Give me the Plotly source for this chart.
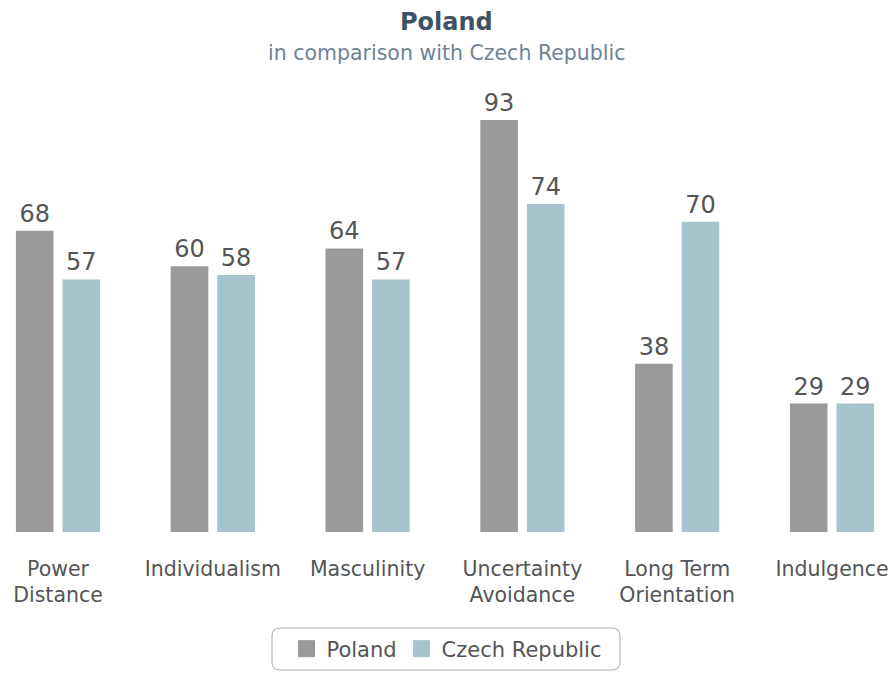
import plotly.graph_objects as go

# Hofstede dimension scores
dimensions = ["Power<br>Distance", "Individualism", "Masculinity",
              "Uncertainty<br>Avoidance", "Long Term<br>Orientation", "Indulgence"]
poland = [68, 60, 64, 93, 38, 29]
czech = [57, 58, 57, 74, 70, 29]

positions = list(range(len(dimensions)))

POLAND_COLOR = "#9b999c"
CZECH_COLOR = "#a7c4cd"
TEXT_COLOR = "#555555"
FONT = "DejaVu Sans"

PLOT_TOP = 100
PLOT_H = 432

fig = go.Figure()
for name, vals, color, off in [("Poland", poland, POLAND_COLOR, -0.272),
                               ("Czech Republic", czech, CZECH_COLOR, 0.029)]:
    fig.add_trace(go.Bar(
        x=positions, y=vals, name=name, showlegend=False,
        marker=dict(color=color, line=dict(width=0)),
        width=0.243, offset=off,
        text=[str(v) for v in vals], textposition="outside",
        textfont=dict(size=24, color=TEXT_COLOR, family=FONT),
        cliponaxis=False,
    ))
    # legend entry with a larger square swatch
    fig.add_trace(go.Scatter(
        x=[None], y=[None], name=name, mode="markers",
        marker=dict(symbol="square", size=16, color=color,
                    line=dict(width=1, color=color)),
    ))

fig.update_layout(
    width=893, height=675,
    margin=dict(l=0, r=0, t=PLOT_TOP, b=675 - PLOT_TOP - PLOT_H),
    paper_bgcolor="white", plot_bgcolor="white",
    font=dict(family=FONT, color=TEXT_COLOR),
    barmode="overlay",
    showlegend=True,
    legend=dict(
        orientation="h", x=0.5, xanchor="center",
        y=-(649 - PLOT_TOP - PLOT_H) / PLOT_H, yanchor="middle",
        font=dict(size=21, color=TEXT_COLOR, family=FONT),
        bordercolor="rgba(0,0,0,0)", borderwidth=0, bgcolor="rgba(0,0,0,0)",
        itemsizing="trace", itemwidth=30,
    ),
    xaxis=dict(
        range=[-0.3747, 5.394],
        tickmode="array", tickvals=positions, ticktext=dimensions,
        tickfont=dict(size=20.5, color=TEXT_COLOR, family=FONT),
        showgrid=False, zeroline=False, showline=False, ticks="",
        ticklabelstandoff=22,
    ),
    yaxis=dict(range=[0, 97.5], visible=False, showgrid=False, zeroline=False),
)

# Title and subtitle, placed in pixels from the top of the page
def py(pixel_y):
    return 1 + (PLOT_TOP - pixel_y) / PLOT_H

fig.add_annotation(text="<b>Poland</b>", x=0.5, xref="paper", y=py(22), yref="paper",
                   yanchor="middle", showarrow=False,
                   font=dict(size=24, color="#3e5266", family=FONT))
fig.add_annotation(text="in comparison with Czech Republic", x=0.5, xref="paper",
                   y=py(53), yref="paper", yanchor="middle", showarrow=False,
                   font=dict(size=20.5, color="#6f8396", family=FONT))

# Rounded frame around the legend
x0, x1 = 272 / 893, 620 / 893
y0, y1 = py(670), py(628)
rx, ry = 8 / 893, 8 / PLOT_H
path = (f"M {x0+rx},{y0} L {x1-rx},{y0} Q {x1},{y0} {x1},{y0+ry} "
        f"L {x1},{y1-ry} Q {x1},{y1} {x1-rx},{y1} L {x0+rx},{y1} "
        f"Q {x0},{y1} {x0},{y1-ry} L {x0},{y0+ry} Q {x0},{y0} {x0+rx},{y0} Z")
fig.add_shape(type="path", path=path, xref="paper", yref="paper",
              line=dict(color="#a9a9a9", width=1), layer="below")

fig.write_html("out.html")
